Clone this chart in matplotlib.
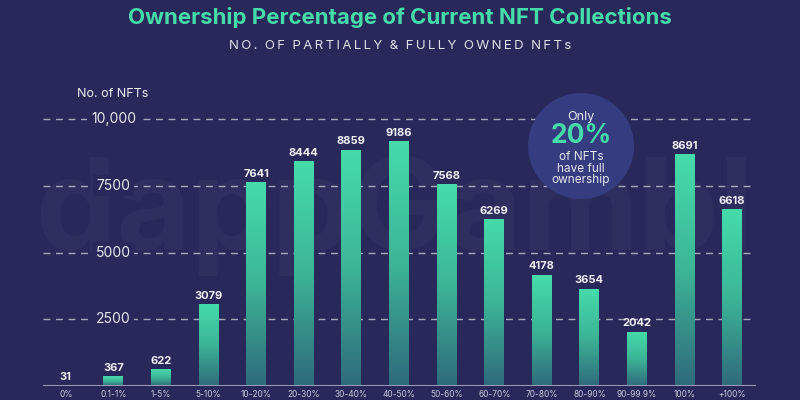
import numpy as np
import matplotlib
matplotlib.use("Agg")
import matplotlib.pyplot as plt
from matplotlib.patches import Circle

categories = ['0%', '0.1-1%', '1-5%', '5-10%', '10-20%', '20-30%', '30-40%', '40-50%',
              '50-60%', '60-70%', '70-80%', '80-90%', '90-99.9%', '100%', '+100%']
counts = [31, 367, 622, 3079, 7641, 8444, 8859, 9186, 7568, 6269, 4178, 3654, 2042, 8691, 6618]
ytick_vals = [2500, 5000, 7500, 10000]
ytick_text = ['2500', '5000', '7500', '10,000']

bg = '#28285a'
teal = '#45dcaa'

plt.rcParams['font.family'] = ['Inter', 'DejaVu Sans']

fig = plt.figure(figsize=(8, 4), dpi=100, facecolor=bg)

# overlay in pixel coords for the faint watermark
ov = fig.add_axes([0, 0, 1, 1], zorder=0)
ov.set_xlim(0, 800)
ov.set_ylim(400, 0)
ov.axis('off')
ov.text(395, 215, 'dappGambl', ha='center', va='center', fontsize=92,
        fontweight='bold', color='white', alpha=0.03)

ax = fig.add_axes([43/800, 14/400, 713/800, 0.707], zorder=1)
ax.patch.set_alpha(0)
for s in ax.spines.values():
    s.set_visible(False)
ax.set_xticks([])
ax.set_yticks([])

# dashed gridlines with labels
for v, t in zip(ytick_vals, ytick_text):
    ax.axhline(v, color='#c8c8dc', lw=1, ls=(0, (5, 4)), alpha=0.8, zorder=1)
    ax.text(1.0, v, t, ha='center', va='center', fontsize=10, color='#e8e8f0',
            bbox=dict(boxstyle='square,pad=0.25', fc=bg, ec='none'), zorder=2)

# gradient bars
grad = np.linspace(0, 1, 256).reshape(-1, 1)
cmap = matplotlib.colors.LinearSegmentedColormap.from_list('g', ['#2f6a7c', '#3cb596', teal])
w = 0.42
x = np.arange(len(categories))
bars = ax.bar(x, counts, width=w, color='none', zorder=3)
for b, c in zip(bars, counts):
    x0 = b.get_x()
    im = ax.imshow(grad, extent=[x0, x0 + w, 0, c], origin='lower', aspect='auto',
                   cmap=cmap, zorder=3)
    im.set_clip_path(b)
    ax.text(x0 + w / 2, c + 120, str(c), ha='center', va='bottom',
            fontsize=8, color='#f0f0f5', fontweight='bold', zorder=4)
ax.set_xlim(-0.48, 14.5)
ax.set_ylim(0, 10600)

ax.axhline(0, color='#9a9ab4', lw=1.5, zorder=5)

for xi, c in zip(x, categories):
    ax.text(xi, -330, c, ha='center', va='center', fontsize=6, color='#c8c8dc', clip_on=False)

# top overlay: bubble and titles
top = fig.add_axes([0, 0, 1, 1], zorder=2)
top.set_xlim(0, 800)
top.set_ylim(400, 0)
top.set_aspect('equal')
top.axis('off')
top.add_patch(Circle((581, 146), 53, fc='#363c80', ec='none'))
top.text(581, 117, 'Only', ha='center', va='center', fontsize=9, color='#e8e8f0')
top.text(581, 136, '20%', ha='center', va='center', fontsize=19, fontweight='bold', color=teal)
top.text(581, 157, 'of NFTs', ha='center', va='center', fontsize=8.5, color='#e8e8f0')
top.text(581, 168.5, 'have full', ha='center', va='center', fontsize=8.5, color='#e8e8f0')
top.text(581, 180, 'ownership', ha='center', va='center', fontsize=8.5, color='#e8e8f0')

top.text(113, 94, 'No. of NFTs', ha='center', va='center', fontsize=9, color='#f0f0f5')

top.text(400, 18, 'Ownership Percentage of Current NFT Collections', ha='center',
         va='center', fontsize=16, fontweight='bold', color=teal)
sub = 'NO. OF PARTIALLY & FULLY OWNED NFTs'
sub = '  '.join('\u2009'.join(word) for word in sub.split(' '))
top.text(400, 46, sub, ha='center', va='center', fontsize=9.5, color='#e0e0ea')

fig.savefig('out.png', dpi=100, facecolor=bg)
